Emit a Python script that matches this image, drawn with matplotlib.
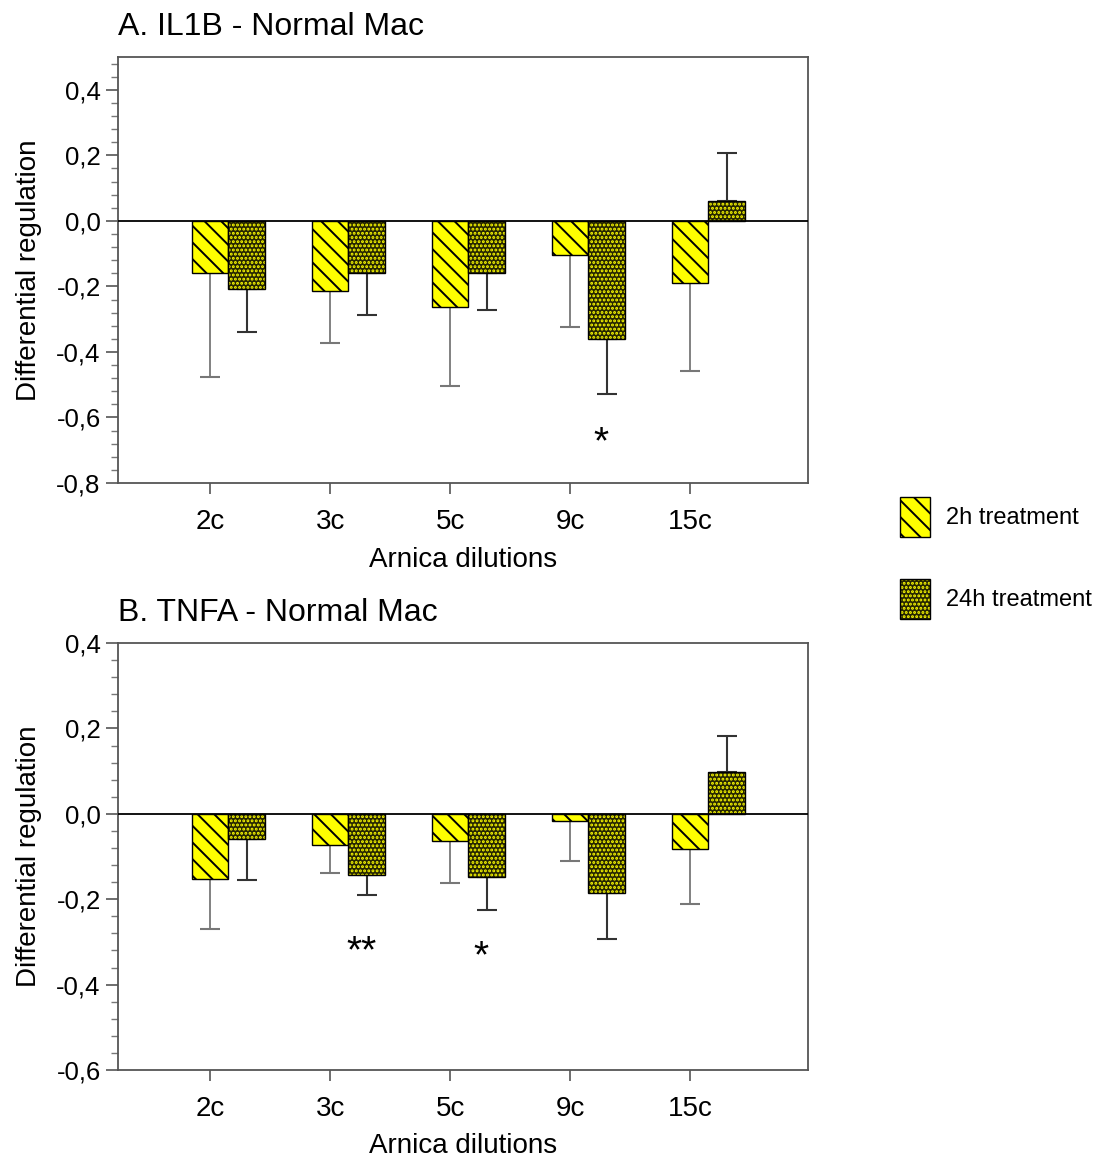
"""
Arnica dilutions - differential regulation of IL1B / TNFA in normal macrophages.
Two panels, 2h vs 24h treatment, one-sided SE bars.
"""
import numpy as np
import matplotlib.pyplot as plt
from matplotlib.patches import Patch
from matplotlib.legend_handler import HandlerTuple
from matplotlib.ticker import AutoMinorLocator, FuncFormatter, MultipleLocator

plt.rcParams['font.family'] = ['Liberation Sans', 'DejaVu Sans']
plt.rcParams['axes.unicode_minus'] = False
plt.rcParams['hatch.linewidth'] = 1.4

dilutions = ['2c', '3c', '5c', '9c', '15c']

# panel A - IL1B
il1b_2h = [-0.158, -0.215, -0.263, -0.103, -0.190]
il1b_2h_err = [0.318, 0.158, 0.242, 0.220, 0.267]
il1b_24h = [-0.209, -0.160, -0.160, -0.361, 0.060]
il1b_24h_err = [0.130, 0.126, 0.113, 0.166, 0.146]
il1b_sig = ['', '', '', '*', '']
il1b_sig_y = [0, 0, 0, -0.68, 0]

# panel B - TNFA
tnfa_2h = [-0.153, -0.073, -0.063, -0.016, -0.082]
tnfa_2h_err = [0.117, 0.066, 0.099, 0.094, 0.128]
tnfa_24h = [-0.058, -0.144, -0.148, -0.185, 0.099]
tnfa_24h_err = [0.097, 0.046, 0.078, 0.109, 0.084]
tnfa_sig = ['', '**', '*', '', '']
tnfa_sig_y = [0, -0.325, -0.337, 0, 0]

YELLOW = '#ffff00'
DARK = '#262600'
W = 0.305


def one_sided(vals, errs):
    vals, errs = np.asarray(vals), np.asarray(errs)
    lo = np.where(vals < 0, errs, 0)
    hi = np.where(vals >= 0, errs, 0)
    return [lo, hi]


def fmt(v, p):
    if abs(v) < 1e-9:
        v = 0.0
    return f'{v:.1f}'.replace('.', ',')


def panel(ax, title, v2, e2, v24, e24, sig, sig_y, ylim):
    x = np.arange(len(dilutions))
    ax.bar(x, v2, W, color=YELLOW, edgecolor='black', linewidth=1.0,
           hatch='\\\\', zorder=2)
    # 24h: dark face with yellow dots, then black outline on top
    ax.bar(x + W, v24, W, color=DARK, edgecolor=YELLOW, linewidth=0,
           hatch='....', zorder=2)
    ax.bar(x + W, v24, W, fill=False, edgecolor='black', linewidth=1.0, zorder=2)
    ax.errorbar(x, v2, yerr=one_sided(v2, e2), fmt='none', ecolor='#777777',
                elinewidth=1.3, capsize=7, capthick=1.5, zorder=1)
    ax.errorbar(x + W, v24, yerr=one_sided(v24, e24), fmt='none', ecolor='#333333',
                elinewidth=1.5, capsize=7, capthick=1.5, zorder=1)
    ax.axhline(0, color='black', lw=1.3, zorder=3)
    for i, (s, y) in enumerate(zip(sig, sig_y)):
        if s:
            ax.text(i + 0.26, y, s, ha='center', va='center', fontsize=28)

    ax.set_xlim(-0.767, 4.983)
    ax.set_ylim(*ylim)
    ax.set_xticks(x)
    ax.set_xticklabels(dilutions, fontsize=20)
    ax.yaxis.set_major_locator(MultipleLocator(0.2))
    ax.yaxis.set_minor_locator(AutoMinorLocator(5))
    ax.yaxis.set_major_formatter(FuncFormatter(fmt))
    ax.tick_params(axis='y', labelsize=18.5, length=9, width=1.2, color='#555555')
    ax.tick_params(axis='y', which='minor', length=5, width=1, color='#777777')
    ax.tick_params(axis='x', length=8, width=1.2, color='#555555', pad=11)
    for sp in ax.spines.values():
        sp.set_color('#555555')
        sp.set_linewidth(1.3)
    ax.set_xlabel('Arnica dilutions', fontsize=20, labelpad=8)
    ax.set_ylabel('Differential regulation', fontsize=20, labelpad=10)
    ax.set_title(title, loc='left', fontsize=23, pad=16)


fig = plt.figure(figsize=(10.97, 11.60), dpi=100)
ax_a = fig.add_axes([0.1076, 0.5836, 0.629, 0.3672])
ax_b = fig.add_axes([0.1076, 0.0776, 0.629, 0.3680])

panel(ax_a, 'A. IL1B - Normal Mac', il1b_2h, il1b_2h_err, il1b_24h, il1b_24h_err,
      il1b_sig, il1b_sig_y, (-0.8, 0.5))
panel(ax_b, 'B. TNFA - Normal Mac', tnfa_2h, tnfa_2h_err, tnfa_24h, tnfa_24h_err,
      tnfa_sig, tnfa_sig_y, (-0.6, 0.4))
ax_a.set_yticks(np.arange(-0.8, 0.41, 0.2))

h2 = Patch(facecolor=YELLOW, edgecolor='black', hatch='\\\\')
h24 = (Patch(facecolor=DARK, edgecolor=YELLOW, linewidth=0, hatch='....'),
       Patch(fill=False, edgecolor='black'))
fig.legend([h2, h24], ['2h treatment', '24h treatment'], loc='upper left',
           bbox_to_anchor=(0.812, 0.5795), frameon=False, fontsize=17,
           handlelength=1.27, handleheight=2.2, handletextpad=0.65,
           labelspacing=1.8, borderaxespad=0,
           handler_map={tuple: HandlerTuple(ndivide=1, pad=0)})

fig.savefig('out.png', dpi=100)
